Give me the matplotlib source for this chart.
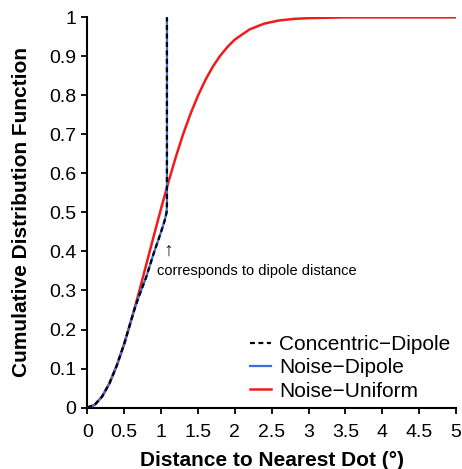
import matplotlib

matplotlib.use("Agg")
import matplotlib.pyplot as plt

plt.rcParams["font.family"] = ["Liberation Sans", "DejaVu Sans"]

# Noise-Uniform CDF
uniform_x = [0, 0.1, 0.2, 0.3, 0.4, 0.5, 0.6, 0.7, 0.8, 0.9, 1.0, 1.1, 1.2, 1.3,
             1.4, 1.5, 1.6, 1.7, 1.8, 1.9, 2.0, 2.2, 2.4, 2.6, 2.8, 3.0, 3.5, 4.0, 4.5, 5.0]
uniform_y = [0, 0.007, 0.028, 0.062, 0.108, 0.163, 0.227, 0.295, 0.367, 0.439, 0.51,
             0.578, 0.642, 0.701, 0.753, 0.799, 0.839, 0.873, 0.901, 0.924, 0.943,
             0.969, 0.984, 0.992, 0.996, 0.998, 1.0, 1.0, 1.0, 1.0]

# Dipole CDFs (the two dipole curves overlap)
dipole_x = [0, 0.1, 0.2, 0.3, 0.4, 0.5, 0.6, 0.65, 0.7, 0.8, 0.9, 1.0, 1.05, 1.075, 1.08, 1.08]
dipole_y = [0, 0.007, 0.028, 0.062, 0.108, 0.163, 0.227, 0.258, 0.285, 0.335, 0.395,
            0.45, 0.48, 0.5, 0.52, 1.0]

x_ticks = [0, 0.5, 1, 1.5, 2, 2.5, 3, 3.5, 4, 4.5, 5]
y_ticks = [0, 0.1, 0.2, 0.3, 0.4, 0.5, 0.6, 0.7, 0.8, 0.9, 1]

fig = plt.figure(figsize=(4.62, 4.69), dpi=100)
ax = fig.add_axes([0.189, 0.131, 0.798, 0.832])

ax.plot(dipole_x, dipole_y, color="#3b6fd4", lw=1.6, label="Noise\u2212Dipole", zorder=3)
ax.plot(uniform_x, uniform_y, color="#f01c1c", lw=1.8, label="Noise\u2212Uniform", zorder=2)
ax.plot(dipole_x, dipole_y, color="black", lw=1.6, ls=(0, (2.2, 1.6)),
        label="Concentric\u2212Dipole", zorder=4)

ax.text(1.1, 0.40, "\u2191", ha="center", va="center", fontsize=14, color="#222222")
ax.text(0.94, 0.35, "corresponds to dipole distance", ha="left", va="center", fontsize=10.5)

ax.set_xlim(0, 5)
ax.set_ylim(0, 1)
ax.set_xticks(x_ticks)
ax.set_xticklabels([f"{t:g}" for t in x_ticks])
ax.set_yticks(y_ticks)
ax.set_yticklabels([f"{t:g}" for t in y_ticks])
ax.tick_params(direction="out", length=4, width=1.3, labelsize=14)
ax.tick_params(axis="x", pad=8)
ax.tick_params(axis="y", pad=4)
for side in ["top", "right"]:
    ax.spines[side].set_visible(False)
for side in ["left", "bottom"]:
    ax.spines[side].set_linewidth(1.5)

ax.set_xlabel("Distance to Nearest Dot (\u00b0)", fontsize=15, fontweight="bold", labelpad=7)
ax.set_ylabel("Cumulative Distribution Function", fontsize=15, fontweight="bold", labelpad=13)

handles, labels = ax.get_legend_handles_labels()
order = [2, 0, 1]
ax.legend([handles[i] for i in order], [labels[i] for i in order],
          loc="lower right", bbox_to_anchor=(1.035, -0.03), frameon=False,
          fontsize=15, handlelength=1.0, handletextpad=0.4, labelspacing=0.2)

fig.savefig("out.png", dpi=100)
